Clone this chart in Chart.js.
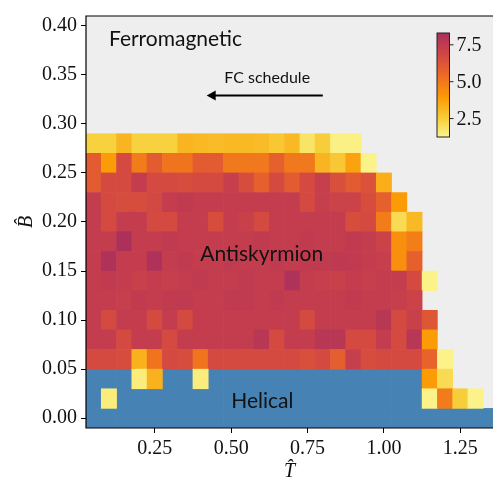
<!DOCTYPE html>
<html>
<head>
<meta charset="utf-8">
<script src="https://cdn.jsdelivr.net/npm/chart.js@4.4.1/dist/chart.umd.min.js"></script>
<style>
  html, body { margin: 0; padding: 0; background: #fff; overflow: hidden; }
  canvas { display: block; }
</style>
</head>
<body>
<canvas id="phaseChart" width="493" height="478"></canvas>
<script>
// cell centres: temperature columns and field rows (top row first)
const temps = [0.05, 0.10, 0.15, 0.20, 0.25, 0.30, 0.35, 0.40, 0.45, 0.50, 0.55, 0.60, 0.65, 0.70,
               0.75, 0.80, 0.85, 0.90, 0.95, 1.00, 1.05, 1.10, 1.15, 1.20, 1.25, 1.30, 1.35];
const fields = [0.28, 0.26, 0.24, 0.22, 0.20, 0.18, 0.16, 0.14, 0.12, 0.10, 0.08, 0.06, 0.04, 0.02, 0.00];
const cellHalfHeight = 0.01;

const xTicks = [0.25, 0.50, 0.75, 1.00, 1.25];
const yTicks = [0.00, 0.05, 0.10, 0.15, 0.20, 0.25, 0.30, 0.35, 0.40];
const colorbarTicks = [2.5, 5.0, 7.5];

// antiskyrmion density per cell; H = helical, null = ferromagnetic (left empty)
const H = "H";
const _ = null;
const density = [
  [2.4, 2.4, 3.2, 2.4, 2.4, 2.4, 3.2, 3.1, 3.0, 3.1, 3.1, 3.0, 2.7, 3.1, 1.8, 2.5, 1.4, 1.4, _, _, _, _, _, _, _, _, _],
  [6.0, 3.9, 6.7, 4.9, 6.0, 5.1, 5.1, 6.0, 6.0, 5.0, 5.0, 5.0, 5.8, 5.0, 5.0, 3.2, 2.7, 3.7, 1.3, _, _, _, _, _, _, _, _],
  [6.0, 6.7, 6.7, 7.4, 6.7, 6.7, 6.6, 6.7, 6.7, 7.3, 6.6, 5.8, 6.7, 6.0, 6.7, 7.3, 6.5, 6.0, 6.4, 3.4, _, _, _, _, _, _, _],
  [7.4, 6.7, 6.6, 6.6, 6.8, 7.4, 7.5, 7.4, 7.4, 7.4, 7.4, 7.4, 7.4, 7.4, 6.7, 7.3, 7.1, 7.1, 6.6, 5.8, 3.9, _, _, _, _, _, _],
  [7.4, 6.7, 7.4, 7.4, 6.7, 6.7, 7.4, 7.4, 6.6, 7.4, 7.2, 6.7, 7.4, 7.4, 7.4, 7.4, 7.4, 6.6, 6.7, 4.9, 2.1, 3.1, _, _, _, _, _],
  [7.4, 7.4, 8.2, 7.4, 7.4, 7.5, 7.4, 7.4, 7.4, 7.4, 7.4, 7.5, 7.4, 7.4, 7.5, 7.4, 7.4, 7.5, 7.4, 7.1, 4.3, 4.8, _, _, _, _, _],
  [7.4, 8.1, 7.4, 7.4, 8.1, 7.4, 7.5, 7.4, 7.4, 7.5, 7.4, 7.4, 7.5, 7.4, 7.5, 7.5, 7.6, 7.5, 7.4, 7.3, 4.3, 5.8, _, _, _, _, _],
  [7.4, 7.5, 7.4, 7.2, 7.4, 7.3, 7.4, 7.5, 7.4, 7.4, 7.5, 7.4, 7.4, 8.1, 7.4, 7.3, 7.2, 7.4, 7.3, 7.4, 7.4, 6.7, 1.3, _, _, _, _],
  [7.4, 7.4, 7.3, 7.5, 7.4, 7.5, 7.5, 7.4, 7.4, 7.5, 7.5, 7.4, 7.5, 7.4, 7.4, 7.4, 7.4, 7.5, 7.4, 7.4, 7.3, 7.1, _, _, _, _, _],
  [7.4, 6.7, 7.4, 7.4, 6.7, 7.4, 6.7, 7.4, 7.4, 7.4, 7.4, 7.4, 7.4, 7.4, 6.7, 7.4, 7.4, 7.4, 7.4, 7.8, 6.7, 7.2, 6.2, _, _, _, _],
  [7.4, 7.4, 6.7, 7.4, 7.4, 6.7, 7.4, 7.4, 7.4, 7.4, 7.4, 7.8, 6.7, 7.4, 7.4, 7.8, 7.8, 6.7, 6.7, 7.4, 6.7, 7.8, 3.9, _, _, _, _],
  [6.7, 6.7, 6.6, 3.3, 5.1, 6.7, 6.6, 5.1, 6.7, 6.7, 6.7, 6.7, 6.7, 6.7, 6.5, 6.7, 5.9, 7.3, 6.6, 6.7, 6.7, 6.7, 5.7, 1.3, _, _, _],
  [H, H, H, 1.5, 3.3, H, H, 1.5, H, H, H, H, H, H, H, H, H, H, H, H, H, H, 3.9, 2.1, _, _, _],
  [H, 1.5, H, H, H, H, H, H, H, H, H, H, H, H, H, H, H, H, H, H, H, H, 1.3, 4.9, 2.5, 1.3, _],
  [H, H, H, H, H, H, H, H, H, H, H, H, H, H, H, H, H, H, H, H, H, H, H, H, H, H, H],
];

// colour scale: reversed, truncated inferno
const VMIN = 1.25, VMAX = 8.3;
const P_LOW = 0.975, P_HIGH = 0.457;
const inferno = ['#000004', '#1b0c41', '#4a0c6b', '#781c6d', '#a52c60',
                 '#cf4446', '#ed6925', '#fb9b06', '#f7d13d', '#fcffa4'];

function hexToRgb(h) {
  return [parseInt(h.slice(1, 3), 16), parseInt(h.slice(3, 5), 16), parseInt(h.slice(5, 7), 16)];
}
const infernoRgb = inferno.map(hexToRgb);

function infernoAt(p) {
  p = Math.min(1, Math.max(0, p));
  const f = p * (infernoRgb.length - 1);
  const i = Math.min(infernoRgb.length - 2, Math.floor(f));
  const t = f - i;
  const a = infernoRgb[i], b = infernoRgb[i + 1];
  const c = a.map((ch, k) => Math.round(ch + (b[k] - ch) * t));
  return `rgb(${c[0]}, ${c[1]}, ${c[2]})`;
}

function densityColor(v) {
  const s = Math.min(1, Math.max(0, (v - VMIN) / (VMAX - VMIN)));
  return infernoAt(P_LOW + (P_HIGH - P_LOW) * s);
}

const cells = [];
const helicalCells = [];
fields.forEach((b, j) => {
  density[j].forEach((v, i) => {
    if (v === null) return;
    const cell = { x: temps[i], y: [b - cellHalfHeight, b + cellHalfHeight], v: v };
    if (v === H) helicalCells.push(cell);
    else cells.push(cell);
  });
});

const serif = "'Liberation Serif', 'DejaVu Serif', serif";
const sans = "Lato, 'Open Sans', sans-serif";

// light grey axes face
const faceFill = {
  id: "faceFill",
  beforeDatasetsDraw(chart) {
    const { ctx, chartArea: a } = chart;
    ctx.save();
    ctx.fillStyle = "#eeeeee";
    ctx.fillRect(a.left, a.top, a.right - a.left, a.bottom - a.top);
    ctx.restore();
  },
};

// phase names, FC arrow, frame and colourbar
const overlay = {
  id: "overlay",
  afterDatasetsDraw(chart) {
    const { ctx, chartArea: a } = chart;
    const xs = chart.scales.x, ys = chart.scales.y;
    const px = (t) => xs.getPixelForValue(t);
    const py = (b) => ys.getPixelForValue(b);

    ctx.save();
    ctx.fillStyle = "#111";
    ctx.textBaseline = "middle";

    ctx.font = `21px ${sans}`;
    ctx.textAlign = "left";
    ctx.fillText("Ferromagnetic", px(0.10), py(0.386));
    ctx.textAlign = "center";
    ctx.fillText("Antiskyrmion", px(0.60), py(0.167));
    ctx.fillText("Helical", px(0.602), py(0.017));

    ctx.font = `16px ${sans}`;
    ctx.fillText("FC schedule", px(0.618), py(0.347));

    // cooling arrow
    const y0 = py(0.329), xStart = px(0.80), xEnd = px(0.42);
    ctx.strokeStyle = "#000";
    ctx.lineWidth = 2;
    ctx.beginPath();
    ctx.moveTo(xStart, y0);
    ctx.lineTo(xEnd + 6, y0);
    ctx.stroke();
    ctx.fillStyle = "#000";
    ctx.beginPath();
    ctx.moveTo(xEnd, y0);
    ctx.lineTo(xEnd + 9, y0 - 5);
    ctx.lineTo(xEnd + 9, y0 + 5);
    ctx.closePath();
    ctx.fill();

    // frame (right side falls outside the canvas)
    ctx.strokeStyle = "#000";
    ctx.lineWidth = 1.2;
    ctx.beginPath();
    ctx.moveTo(a.right + 1, a.top);
    ctx.lineTo(a.left, a.top);
    ctx.lineTo(a.left, a.bottom);
    ctx.lineTo(a.right + 1, a.bottom);
    ctx.stroke();

    // colourbar
    const cb = { x: 437, y: 33, w: 12.5, h: 104 };
    for (let k = 0; k < cb.h; k++) {
      const v = VMAX - (VMAX - VMIN) * (k + 0.5) / cb.h;
      ctx.fillStyle = densityColor(v);
      ctx.fillRect(cb.x, cb.y + k, cb.w, 1.2);
    }
    ctx.strokeStyle = "#222";
    ctx.lineWidth = 1;
    ctx.strokeRect(cb.x, cb.y, cb.w, cb.h);
    ctx.fillStyle = "#111";
    ctx.font = `20px ${serif}`;
    ctx.textAlign = "left";
    colorbarTicks.forEach((v) => {
      const y = cb.y + (VMAX - v) / (VMAX - VMIN) * cb.h;
      ctx.beginPath();
      ctx.moveTo(cb.x + cb.w, y);
      ctx.lineTo(cb.x + cb.w + 4, y);
      ctx.stroke();
      ctx.fillText(v.toFixed(1), cb.x + cb.w + 7, y + 1);
    });
    ctx.restore();
  },
};

const cellStyle = {
  type: "bar",
  grouped: false,
  barPercentage: 1,
  categoryPercentage: 1,
  borderWidth: 0,
};

const tickGrid = { offset: false, drawOnChartArea: false, drawTicks: true, tickLength: 5, tickColor: "#000", tickWidth: 1 };

new Chart(document.getElementById("phaseChart"), {
  type: "bar",
  data: {
    datasets: [
      Object.assign({ label: "density", data: cells, backgroundColor: (c) => densityColor(c.raw.v) }, cellStyle),
      Object.assign({ label: "helical", data: helicalCells, backgroundColor: "#4682b4" }, cellStyle),
    ],
  },
  options: {
    responsive: false,
    animation: false,
    devicePixelRatio: 1,
    layout: { padding: { top: 12, right: 0, left: 0, bottom: 0 } },
    plugins: { legend: { display: false }, tooltip: { enabled: false }, title: { display: false } },
    scales: {
      x: {
        type: "linear",
        offset: false,
        min: 0.025,
        max: 1.357,
        afterBuildTicks: (axis) => { axis.ticks = xTicks.map((v) => ({ value: v })); },
        afterFit: (axis) => { axis.height = 50; },
        grid: tickGrid,
        border: { display: false },
        ticks: { color: "#111", font: { family: serif, size: 20 }, padding: 4, maxRotation: 0,
                 callback: (v) => Number(v).toFixed(2) },
        title: { display: true, text: "T\u0302", color: "#111",
                 font: { family: serif, size: 20, style: "italic", lineHeight: 0.6 }, padding: { top: 0, bottom: 0 } },
      },
      y: {
        type: "linear",
        min: -0.01,
        max: 0.41,
        afterBuildTicks: (axis) => { axis.ticks = yTicks.map((v) => ({ value: v })); },
        afterFit: (axis) => { axis.width = 86; },
        grid: tickGrid,
        border: { display: false },
        ticks: { color: "#111", font: { family: serif, size: 20 }, padding: 4,
                 callback: (v) => Number(v).toFixed(2) },
        title: { display: true, text: "B\u0302", color: "#111",
                 font: { family: serif, size: 20, style: "italic", lineHeight: 1 }, padding: { top: 17, bottom: 0 } },
      },
    },
  },
  plugins: [faceFill, overlay],
});
</script>
</body>
</html>
